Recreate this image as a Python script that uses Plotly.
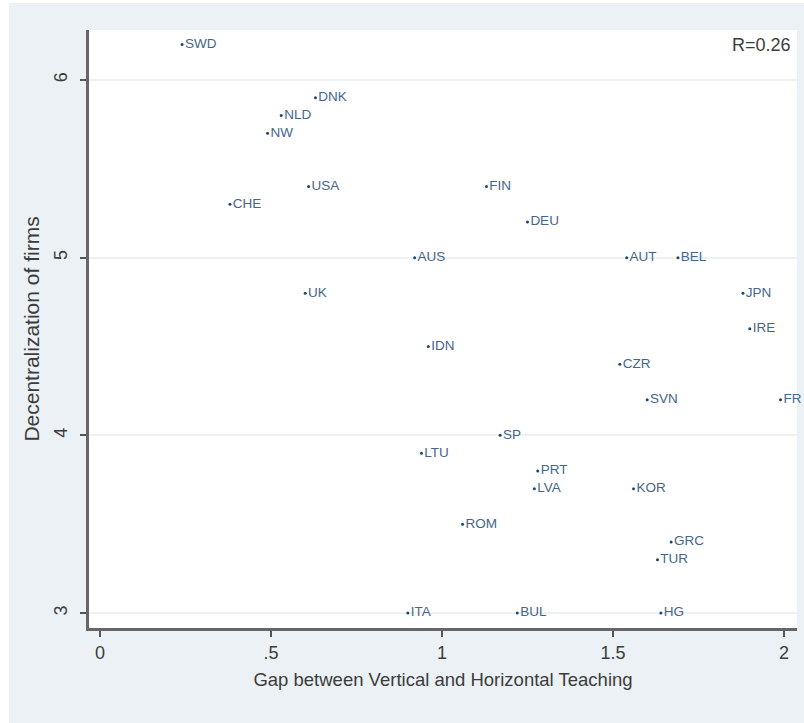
import plotly.graph_objects as go

# Country codes with their gap (x) and firm decentralization (y) scores
countries = ["SWD", "DNK", "NLD", "NW", "USA", "CHE", "FIN", "DEU", "UK",
             "AUS", "AUT", "BEL", "JPN", "IRE", "IDN", "CZR", "SVN", "FR",
             "SP", "LTU", "PRT", "LVA", "KOR", "ROM", "GRC", "TUR",
             "ITA", "BUL", "HG"]
gap_vh = [0.24, 0.63, 0.53, 0.49, 0.61, 0.38, 1.13, 1.25, 0.60,
          0.92, 1.54, 1.69, 1.88, 1.90, 0.96, 1.52, 1.60, 1.99,
          1.17, 0.94, 1.28, 1.27, 1.56, 1.06, 1.67, 1.63,
          0.90, 1.22, 1.64]
decentralization = [6.2, 5.9, 5.8, 5.7, 5.4, 5.3, 5.4, 5.2, 4.8,
                    5.0, 5.0, 5.0, 4.8, 4.6, 4.5, 4.4, 4.2, 4.2,
                    4.0, 3.9, 3.8, 3.7, 3.7, 3.5, 3.4, 3.3,
                    3.0, 3.0, 3.0]

x_ticks = [0, 0.5, 1, 1.5, 2]
x_tick_text = ["0", ".5", "1", "1.5", "2"]
y_ticks = [3, 4, 5, 6]
corr_label = "R=0.26"

FONT = "Liberation Sans, Arial, sans-serif"
TEXT = "#3c3c3c"
NAVY = "#1a476f"

fig = go.Figure()
fig.add_trace(go.Scatter(
    x=gap_vh, y=decentralization, text=countries,
    mode="markers+text", textposition="middle right",
    marker=dict(size=3, color=NAVY),
    textfont=dict(family=FONT, size=13.5, color="#46658a"),
    cliponaxis=False, showlegend=False, hoverinfo="skip",
))

fig.add_annotation(
    text=corr_label, xref="paper", yref="paper", x=0.995, y=0.975,
    xanchor="right", yanchor="middle", showarrow=False,
    font=dict(family=FONT, size=18, color=TEXT),
)

# White margins around the tinted graph region
for x0, x1, y0, y1 in [(-0.2, -0.113, -0.3, 1.2), (-0.2, 1.2, 1.0452, 1.2)]:
    fig.add_shape(type="rect", xref="paper", yref="paper",
                  x0=x0, x1=x1, y0=y0, y1=y1,
                  fillcolor="white", line_width=0, layer="above")

fig.update_layout(
    width=804, height=723,
    margin=dict(l=89, r=7, t=30, b=95),
    paper_bgcolor="#ebf1f4", plot_bgcolor="white",
    font=dict(family=FONT, size=18, color=TEXT),
    xaxis=dict(
        range=[-0.0322, 2.038], tickvals=x_ticks, ticktext=x_tick_text,
        ticks="outside", ticklen=6, tickwidth=2, tickcolor="#555555",
        showline=True, linewidth=2.5, linecolor="#666666",
        showgrid=False, zeroline=False, ticklabelstandoff=1,
        tickfont=dict(size=18),
        title=dict(text="Gap between Vertical and Horizontal Teaching",
                   font=dict(size=18.5), standoff=11),
    ),
    yaxis=dict(
        range=[2.916, 6.281], tickvals=y_ticks, tickangle=-90,
        ticks="outside", ticklen=6, tickwidth=2, tickcolor="#555555",
        showline=True, linewidth=2.5, linecolor="#666666",
        showgrid=True, gridcolor="#edf1f1", gridwidth=1.5,
        zeroline=False, ticklabelstandoff=6, tickfont=dict(size=18),
        title=dict(text="Decentralization of firms",
                   font=dict(size=21), standoff=6),
    ),
)

fig.write_html("out.html")
